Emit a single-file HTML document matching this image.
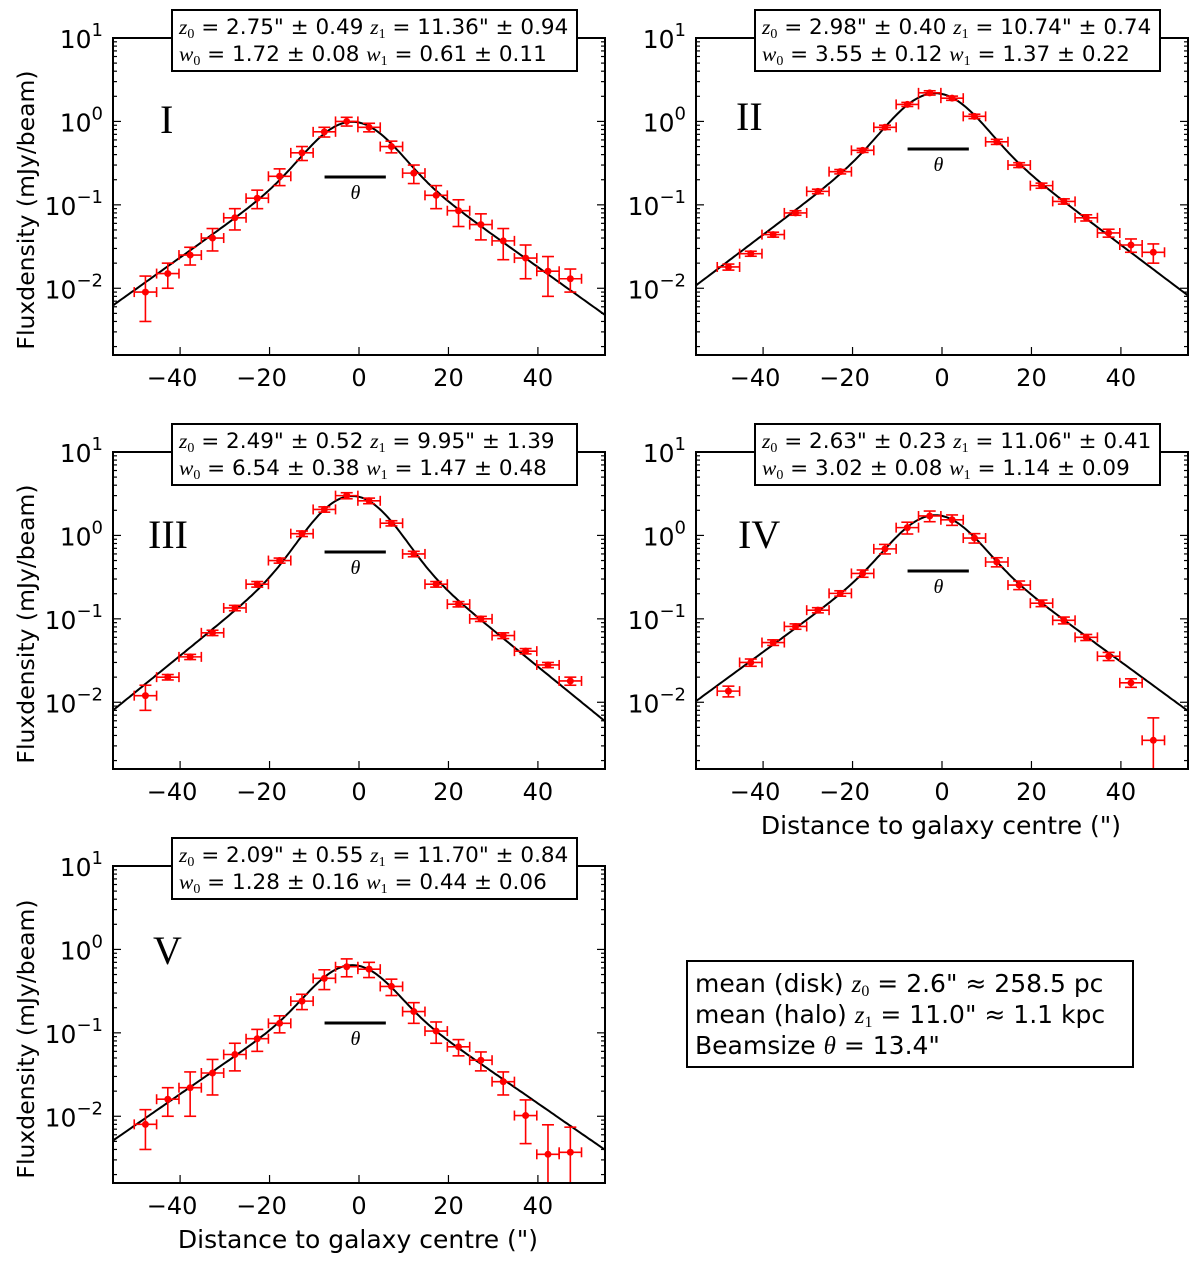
<!DOCTYPE html>
<html><head><meta charset="utf-8">
<style>
html,body{margin:0;padding:0;background:#fff;overflow:hidden;width:1200px;height:1281px;}
svg{display:block;font-family:"DejaVu Sans","Liberation Sans",sans-serif;}
</style></head>
<body>
<svg id="fig" width="1200" height="1281" viewBox="0 0 1200 1281" xmlns="http://www.w3.org/2000/svg"></svg>
<script>
const xs = [-47.75,-42.75,-37.75,-32.75,-27.75,-22.75,-17.75,-12.75,-7.75,-2.75,2.25,7.25,12.25,17.25,22.25,27.25,32.25,37.25,42.25,47.25];
const valsI = [0.009,0.015,0.025,0.04,0.07,0.12,0.22,0.42,0.75,1.0,0.85,0.5,0.24,0.13,0.085,0.058,0.037,0.023,0.016,0.013];
const errI = [0.005,0.005,0.006,0.012,0.02,0.03,0.05,0.08,0.1,0.12,0.1,0.08,0.06,0.04,0.03,0.02,0.015,0.01,0.008,0.004];
const valsII = [0.018,0.026,0.044,0.08,0.145,0.25,0.45,0.85,1.6,2.2,1.9,1.15,0.57,0.3,0.17,0.11,0.07,0.046,0.033,0.027];
const errII = [0.0015,0.0018,0.003,0.005,0.009,0.015,0.025,0.05,0.09,0.13,0.11,0.07,0.04,0.02,0.012,0.008,0.006,0.005,0.006,0.007];
const valsIII = [0.012,0.02,0.035,0.068,0.135,0.26,0.5,1.05,2.05,3.0,2.6,1.4,0.6,0.26,0.15,0.1,0.063,0.041,0.028,0.018];
const errIII = [0.004,0.0015,0.0025,0.005,0.01,0.02,0.035,0.08,0.15,0.25,0.2,0.1,0.045,0.02,0.011,0.007,0.005,0.003,0.002,0.002];
const valsIV = [0.0136,0.030,0.052,0.081,0.127,0.202,0.35,0.69,1.24,1.71,1.54,0.93,0.48,0.254,0.154,0.096,0.06,0.0356,0.0171,0.0035];
const errIV = [0.002,0.003,0.004,0.006,0.009,0.015,0.035,0.09,0.2,0.25,0.22,0.12,0.06,0.03,0.014,0.009,0.005,0.004,0.002,0.003];
const valsV = [0.008,0.016,0.022,0.033,0.055,0.085,0.13,0.24,0.45,0.62,0.58,0.36,0.18,0.105,0.068,0.047,0.026,0.0102,0.0035,0.0037];
const errV = [0.004,0.006,0.012,0.015,0.02,0.025,0.03,0.05,0.12,0.15,0.12,0.08,0.05,0.03,0.015,0.012,0.008,0.0055,0.0044,0.0037];
const z0s = [2.75,2.98,2.49,2.63,2.09];
const z1s = [11.36,10.74,9.95,11.06,11.70];
const w0s = [1.72,3.55,6.54,3.02,1.28];
const w1s = [0.61,1.37,1.47,1.14,0.44];
const labelLines1 = ['= 2.75" ± 0.49','= 2.98" ± 0.40','= 2.49" ± 0.52','= 2.63" ± 0.23','= 2.09" ± 0.55'];
const labelLines1b = ['= 11.36" ± 0.94','= 10.74" ± 0.74','= 9.95" ± 1.39','= 11.06" ± 0.41','= 11.70" ± 0.84'];
const labelLines2 = ['= 1.72 ± 0.08','= 3.55 ± 0.12','= 6.54 ± 0.38','= 3.02 ± 0.08','= 1.28 ± 0.16'];
const labelLines2b = ['= 0.61 ± 0.11','= 1.37 ± 0.22','= 1.47 ± 0.48','= 1.14 ± 0.09','= 0.44 ± 0.06'];
const romans = ['I','II','III','IV','V'];
const xTicks = [-40,-20,0,20,40];
const yTickExp = [-2,-1,0,1];
const beam = 13.4;
const centre = -1.5;

const NS='http://www.w3.org/2000/svg';
const svg=document.getElementById('fig');
function mk(tag,attrs,parent){const e=document.createElementNS(NS,tag);for(const k in attrs)e.setAttribute(k,attrs[k]);(parent||svg).appendChild(e);return e;}

const panels=[
 {L:113,T:38,vals:valsI,err:errI,rx:160,ry:133,thY:177},
 {L:696,T:38,vals:valsII,err:errII,rx:736,ry:130,thY:149},
 {L:113,T:452,vals:valsIII,err:errIII,rx:148,ry:548,thY:552},
 {L:696,T:452,vals:valsIV,err:errIV,rx:738,ry:548,thY:571},
 {L:113,T:866,vals:valsV,err:errV,rx:153,ry:964,thY:1023}
];
const W=492,H=317,XMIN=-55,XMAX=55,YMIN=-2.8,YMAX=1;

function model(z,i){
  const sig=beam/2.3548;let s=0,n=0;
  for(let t=-30;t<=30;t+=0.1){const g=Math.exp(-t*t/(2*sig*sig));const u=Math.abs(z-t-centre);
    s+=g*(w0s[i]*Math.exp(-u/z0s[i])+w1s[i]*Math.exp(-u/z1s[i]));n+=g;}
  return s/n;
}

panels.forEach((p,i)=>{
  const g=mk('g',{});
  
  
  const X=v=>p.L+(v-XMIN)/(XMAX-XMIN)*W;
  const Y=v=>p.T+(YMAX-Math.log10(Math.max(v,1e-6)))/(YMAX-YMIN)*H;
  const cid='clip'+i;
  const cp=mk('clipPath',{id:cid},g);mk('rect',{x:p.L,y:p.T,width:W,height:H},cp);
  const tk=mk('g',{stroke:'#000','stroke-width':1.2},g);
  xTicks.forEach(t=>{const x=X(t);mk('line',{x1:x,y1:p.T+H,x2:x,y2:p.T+H-8},tk);mk('line',{x1:x,y1:p.T,x2:x,y2:p.T+8},tk);
    const lb=mk('text',{x:x-(t<0?8:0),y:p.T+H+31,'font-size':24,'text-anchor':'middle'},g);lb.textContent=(t<0?'\u2212':'')+Math.abs(t);
    });
  for(let e=-3;e<=1;e++){for(let m=1;m<10;m++){const v=m*Math.pow(10,e);const lv=Math.log10(v);if(lv<YMIN-1e-9||lv>YMAX+1e-9)continue;
    const y=Y(v);const len=m===1?8:4;mk('line',{x1:p.L,y1:y,x2:p.L+len,y2:y},tk);mk('line',{x1:p.L+W,y1:y,x2:p.L+W-len,y2:y},tk);}}
  yTickExp.forEach(e=>{const y=Y(Math.pow(10,e));const t=mk('text',{x:p.L-10,y:y+10,'font-size':25,'text-anchor':'end'},g);
    
    t.innerHTML='10<tspan dy="-12" font-size="18">'+(e<0?'\u2212':'')+Math.abs(e)+'</tspan>';});
  let d='';for(let z=XMIN;z<=XMAX+0.01;z+=0.5){d+=(d?'L':'M')+X(z).toFixed(1)+','+Y(model(z,i)).toFixed(1);}
  const cv=mk('path',{d:d,fill:'none',stroke:'#000','stroke-width':2,'clip-path':'url(#'+cid+')'},g);
  
  const dg=mk('g',{stroke:'#f00','stroke-width':1.6,fill:'#f00','clip-path':'url(#'+cid+')'},g);
  xs.forEach((x,j)=>{const v=p.vals[j],e=p.err[j];const cx=X(x),cy=Y(v);
    const pt=mk('g',{},dg);
    const y1=Y(v+e),y2=Y(v-e>0?v-e:1e-6);const xa=X(x-2.5),xb=X(x+2.5);
    mk('line',{x1:cx,y1:y1,x2:cx,y2:y2},pt);mk('line',{x1:cx-6,y1:y1,x2:cx+6,y2:y1},pt);mk('line',{x1:cx-6,y1:y2,x2:cx+6,y2:y2},pt);
    mk('line',{x1:xa,y1:cy,x2:xb,y2:cy},pt);mk('line',{x1:xa,y1:cy-5,x2:xa,y2:cy+5},pt);mk('line',{x1:xb,y1:cy-5,x2:xb,y2:cy+5},pt);
    mk('circle',{cx:cx,cy:cy,r:3.5,stroke:'none'},pt);});
  const fr=mk('rect',{x:p.L,y:p.T,width:W,height:H,fill:'none',stroke:'#000','stroke-width':2},g);
  
  const bb=mk('line',{x1:X(-7.7),y1:p.thY,x2:X(6),y2:p.thY,stroke:'#000','stroke-width':3},g);
  
  const th=mk('text',{x:X(-0.8),y:p.thY+22,'font-size':20,'font-style':'italic','font-family':'Liberation Serif,serif','text-anchor':'middle'},g);th.textContent='θ';
  
  const rn=mk('text',{x:p.rx,y:p.ry,'font-size':40,'font-family':'Liberation Serif,serif'},g);rn.textContent=romans[i];
  
  const bx=p.L+59, by=p.T-28;
  const pb=mk('g',{},g);
  mk('rect',{x:bx,y:by,width:405,height:61,fill:'#fff',stroke:'#000','stroke-width':2},pb);
  const t1=mk('text',{x:bx+7,y:by+24,'font-size':21.5},pb);
  t1.innerHTML='<tspan font-family="Liberation Serif,serif" font-style="italic">z</tspan><tspan font-size="14" dy="4" font-family="Liberation Serif,serif">0</tspan><tspan dy="-4"> '+labelLines1[i]+' </tspan><tspan font-family="Liberation Serif,serif" font-style="italic">z</tspan><tspan font-size="14" dy="4" font-family="Liberation Serif,serif">1</tspan><tspan dy="-4"> '+labelLines1b[i]+'</tspan>';
  const t2=mk('text',{x:bx+7,y:by+51,'font-size':21.5},pb);
  t2.innerHTML='<tspan font-family="Liberation Serif,serif" font-style="italic">w</tspan><tspan font-size="14" dy="4" font-family="Liberation Serif,serif">0</tspan><tspan dy="-4"> '+labelLines2[i]+' </tspan><tspan font-family="Liberation Serif,serif" font-style="italic">w</tspan><tspan font-size="14" dy="4" font-family="Liberation Serif,serif">1</tspan><tspan dy="-4"> '+labelLines2b[i]+'</tspan>';
});
[[34,210],[34,624],[34,1039]].forEach(([x,y])=>{const t=mk('text',{x:x,y:y,'font-size':23.5,'text-anchor':'middle',transform:'rotate(-90 '+x+' '+y+')'});
  t.textContent='Fluxdensity (mJy/beam)';});
[[941,834],[358,1248]].forEach(([x,y])=>{const t=mk('text',{x:x,y:y,'font-size':25,'text-anchor':'middle'});
  t.textContent='Distance to galaxy centre (")';});
const sb=mk('g',{});
mk('rect',{x:687,y:961,width:446,height:106,fill:'#fff',stroke:'#000','stroke-width':2},sb);
const s1=mk('text',{x:695,y:992,'font-size':25},sb);
s1.innerHTML='mean (disk) <tspan font-family="Liberation Serif,serif" font-style="italic">z</tspan><tspan font-size="16" dy="4" font-family="Liberation Serif,serif">0</tspan><tspan dy="-4"> = 2.6"  ≈ 258.5 pc</tspan>';
const s2=mk('text',{x:695,y:1023,'font-size':25},sb);
s2.innerHTML='mean (halo) <tspan font-family="Liberation Serif,serif" font-style="italic">z</tspan><tspan font-size="16" dy="4" font-family="Liberation Serif,serif">1</tspan><tspan dy="-4"> = 11.0" ≈ 1.1 kpc</tspan>';
const s3=mk('text',{x:695,y:1054,'font-size':25},sb);
s3.innerHTML='Beamsize <tspan font-family="Liberation Serif,serif" font-style="italic">θ</tspan> = 13.4"';
</script>
</body></html>
